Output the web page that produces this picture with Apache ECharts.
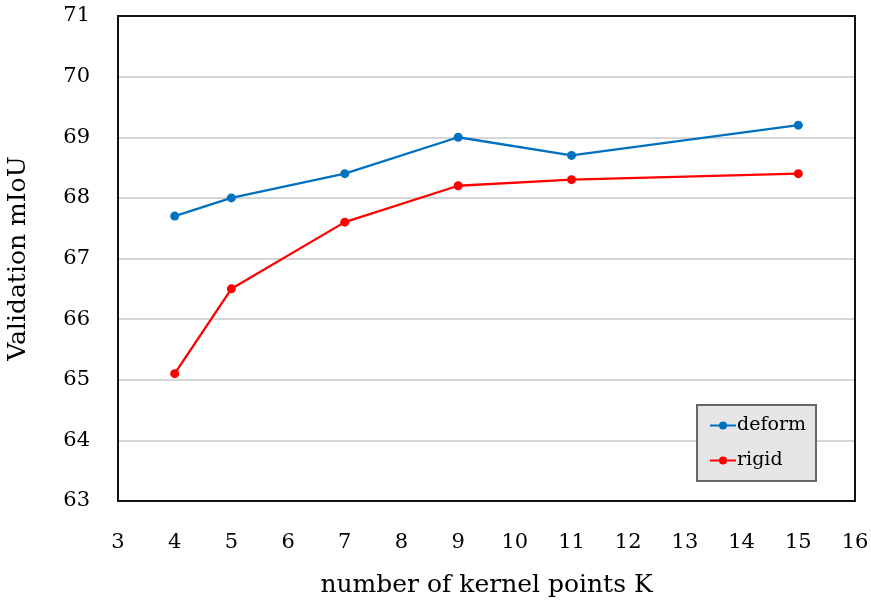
<!DOCTYPE html>
<html><head><meta charset="utf-8">
<script src="https://cdn.jsdelivr.net/npm/echarts@6/dist/echarts.min.js"></script>
<style>html,body{margin:0;padding:0;background:#fff}#c{width:871px;height:608px}</style>
</head><body><div id="c"></div>
<script>
const kValues = [4, 5, 7, 9, 11, 15];
const deform = [67.7, 68.0, 68.4, 69.0, 68.7, 69.2];
const rigid = [65.1, 66.5, 67.6, 68.2, 68.3, 68.4];
const seriesNames = ['deform', 'rigid'];
const xTitle = 'number of kernel points K';
const yTitle = 'Validation mIoU';

const font = 'DejaVu Serif';
const chart = echarts.init(document.getElementById('c'));
chart.setOption({
  animation: false,
  grid: {left: 118, right: 16, top: 16, bottom: 107, show: true, borderColor: '#111', borderWidth: 2, backgroundColor: 'transparent', z: 5, outerBoundsMode: 'none', containLabel: false},
  xAxis: {
    type: 'value', min: 3, max: 16, interval: 1,
    axisLine: {show: false}, axisTick: {show: false}, splitLine: {show: false},
    axisLabel: {fontFamily: font, fontSize: 21, color: '#000', margin: 31},
    name: xTitle, nameLocation: 'middle', nameGap: 72,
    nameTextStyle: {fontFamily: font, fontSize: 25, color: '#000'}
  },
  yAxis: {
    type: 'value', min: 63, max: 71, interval: 1,
    axisLine: {show: false}, axisTick: {show: false},
    splitLine: {showMinLine: false, showMaxLine: false, lineStyle: {color: '#c8c8c8', width: 1.5}},
    axisLabel: {fontFamily: font, fontSize: 21, color: '#000', margin: 28},
    name: yTitle, nameLocation: 'middle', nameGap: 87,
    nameTextStyle: {fontFamily: font, fontSize: 25, color: '#000'}
  },
  legend: {
    orient: 'vertical', left: 697, top: 405,
    backgroundColor: '#e6e6e6', borderColor: '#666', borderWidth: 2,
    padding: [11, 10, 11, 12], itemGap: 16, itemWidth: 26, itemHeight: 10,
    textStyle: {fontFamily: font, fontSize: 19, color: '#000', padding: [0,0,0,-4]},
    data: seriesNames
  },
  series: [
    {name: seriesNames[0], type: 'line', data: kValues.map((k,i)=>[k, deform[i]]),
     symbol: 'circle', symbolSize: 9, itemStyle: {color: '#0070c0'}, lineStyle: {color: '#0070c0', width: 2.3}},
    {name: seriesNames[1], type: 'line', data: kValues.map((k,i)=>[k, rigid[i]]),
     symbol: 'circle', symbolSize: 9, itemStyle: {color: '#ff0000'}, lineStyle: {color: '#ff0000', width: 2.3}}
  ]
});
</script></body></html>
